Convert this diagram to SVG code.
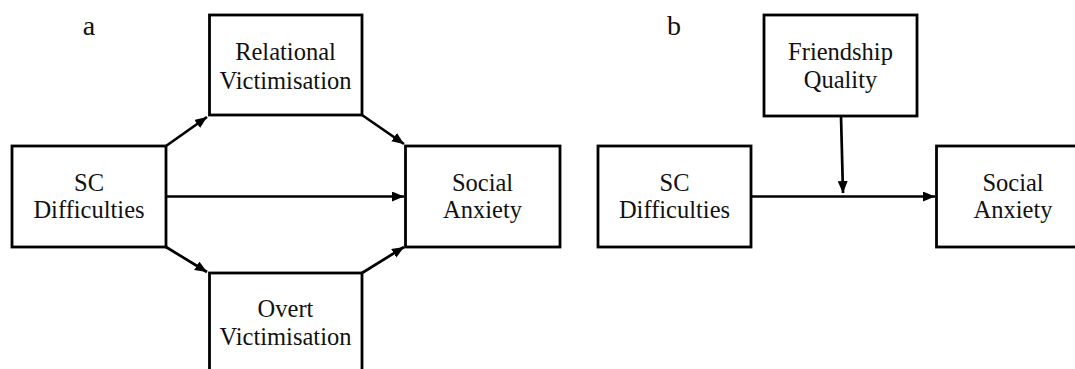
<svg xmlns="http://www.w3.org/2000/svg" width="1075" height="369" viewBox="0 0 1075 369">
<style>
.box{fill:#fff;stroke:#000;stroke-width:2.8}
.lbl{font-family:"Liberation Serif","Times New Roman",serif;font-size:24.5px;fill:#111;text-anchor:middle}
.panel{font-family:"Liberation Serif","Times New Roman",serif;font-size:28px;fill:#111;text-anchor:middle}
.edge{stroke:#000;stroke-width:2.7;fill:none;marker-end:url(#arr)}
</style>
<defs>
<marker id="arr" markerUnits="userSpaceOnUse" markerWidth="14" markerHeight="12" refX="12" refY="5" orient="auto">
<path d="M0,0 L12,5 L0,10 z" fill="#000"/>
</marker>
</defs>
<rect width="1075" height="369" fill="#fff"/>
<text class="panel" x="89" y="35">a</text>
<text class="panel" x="674" y="35">b</text>
<g id="connectors">
<line class="edge" x1="166" y1="146" x2="207" y2="117"/>
<line class="edge" x1="362" y1="115" x2="404" y2="144"/>
<line class="edge" x1="166" y1="196.5" x2="404" y2="196.5"/>
<line class="edge" x1="166" y1="247" x2="207" y2="272"/>
<line class="edge" x1="362" y1="273" x2="404" y2="247"/>
<line class="edge" x1="751" y1="196.5" x2="935" y2="196.5"/>
<line class="edge" x1="841" y1="116" x2="843" y2="193"/>
</g>
<g id="a-relational">
<rect class="box" x="209.5" y="15" width="152.5" height="100"/>
<text class="lbl" x="285.5" y="60">Relational</text>
<text class="lbl" x="285.5" y="89">Victimisation</text>
</g>
<g id="a-sc">
<rect class="box" x="12" y="146" width="154" height="101"/>
<text class="lbl" x="89" y="191">SC</text>
<text class="lbl" x="89" y="218">Difficulties</text>
</g>
<g id="a-social">
<rect class="box" x="405.5" y="146" width="154.5" height="101"/>
<text class="lbl" x="482.5" y="191">Social</text>
<text class="lbl" x="482.5" y="218">Anxiety</text>
</g>
<g id="a-overt">
<rect class="box" x="209.5" y="273" width="152.5" height="110"/>
<text class="lbl" x="285.5" y="317">Overt</text>
<text class="lbl" x="285.5" y="345">Victimisation</text>
</g>
<g id="b-friendship">
<rect class="box" x="764" y="15" width="153" height="101"/>
<text class="lbl" x="840.5" y="60">Friendship</text>
<text class="lbl" x="840.5" y="88">Quality</text>
</g>
<g id="b-sc">
<rect class="box" x="598" y="146" width="153" height="101"/>
<text class="lbl" x="674.5" y="191">SC</text>
<text class="lbl" x="674.5" y="218">Difficulties</text>
</g>
<g id="b-social">
<rect class="box" x="936.5" y="146" width="155" height="101"/>
<text class="lbl" x="1013" y="191">Social</text>
<text class="lbl" x="1013" y="218">Anxiety</text>
</g>
</svg>
